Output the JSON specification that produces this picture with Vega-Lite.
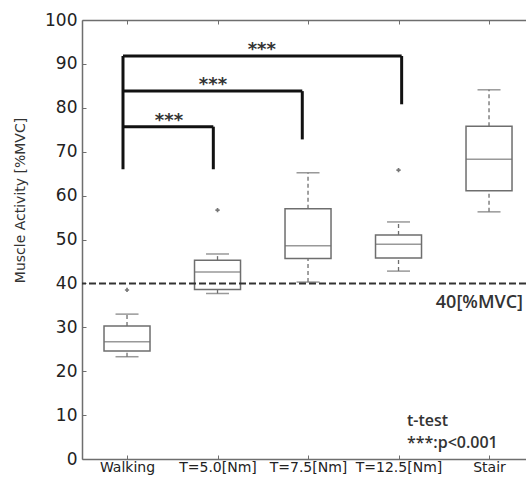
{
  "$schema": "https://vega.github.io/schema/vega-lite/v6.json",
  "width": 444,
  "height": 439,
  "autosize": {"type": "none"},
  "padding": {"left": 82, "top": 20, "right": 0, "bottom": 22},
  "background": "white",
  "config": {
    "view": {"stroke": null},
    "axis": {"grid": false, "domainColor": "#6e6e6e", "domainWidth": 1.5, "tickColor": "#6e6e6e", "tickWidth": 1, "labelFont": "DejaVu Sans", "labelColor": "#222222", "titleFont": "DejaVu Sans"},
    "axisY": {"labelFontSize": 17, "labelPadding": 9, "tickSize": -4},
    "axisX": {"labelFontSize": 14}
  },
  "datasets": {
    "boxes": [
      {"cat": "Walking", "lo": 23.3, "q1": 24.6, "med": 26.7, "q3": 30.3, "hi": 33.0},
      {"cat": "T=5.0[Nm]", "lo": 37.7, "q1": 38.6, "med": 42.6, "q3": 45.3, "hi": 46.7},
      {"cat": "T=7.5[Nm]", "lo": 40.3, "q1": 45.7, "med": 48.6, "q3": 57.0, "hi": 65.2},
      {"cat": "T=12.5[Nm]", "lo": 42.8, "q1": 45.8, "med": 48.9, "q3": 51.0, "hi": 54.0},
      {"cat": "Stair", "lo": 56.3, "q1": 61.1, "med": 68.3, "q3": 75.8, "hi": 84.1}
    ],
    "outliers": [
      {"cat": "Walking", "v": 38.5},
      {"cat": "T=5.0[Nm]", "v": 56.7},
      {"cat": "T=12.5[Nm]", "v": 65.8}
    ],
    "brackets": [
      {"x": 0.956, "x2": 1.954, "y": 75.7, "y2": 75.7},
      {"x": 0.956, "x2": 2.937, "y": 83.8, "y2": 83.8},
      {"x": 0.956, "x2": 4.035, "y": 91.8, "y2": 91.8},
      {"x": 0.956, "x2": 0.956, "y": 66.0, "y2": 91.8},
      {"x": 1.954, "x2": 1.954, "y": 66.0, "y2": 75.7},
      {"x": 2.937, "x2": 2.937, "y": 72.8, "y2": 83.8},
      {"x": 4.035, "x2": 4.035, "y": 80.8, "y2": 91.8}
    ],
    "stars": [
      {"x": 1.464, "y": 75.9, "t": "***"},
      {"x": 1.950, "y": 84.0, "t": "***"},
      {"x": 2.490, "y": 92.1, "t": "***"}
    ],
    "noteRight": [
      {"x": 5.376, "y": 34.3, "t": "40[%MVC]"}
    ],
    "noteLeft": [
      {"x": 4.094, "y": 7.6, "t": "t-test"},
      {"x": 4.094, "y": 2.6, "t": "***:p<0.001"}
    ]
  },
  "resolve": {"scale": {"x": "independent"}, "axis": {"x": "independent"}},
  "layer": [
    {
      "data": {"name": "boxes"},
      "mark": {"type": "rule", "color": "#6e6e6e", "strokeWidth": 1.3, "strokeDash": [4, 3]},
      "encoding": {
        "x": {"field": "cat", "type": "nominal", "scale": {"type": "point", "domain": ["Walking", "T=5.0[Nm]", "T=7.5[Nm]", "T=12.5[Nm]", "Stair"], "padding": 0.453, "align": 0.549}, "axis": null},
        "y": {"field": "lo", "type": "quantitative", "scale": {"domain": [0, 100], "nice": false, "zero": true},
          "axis": {"orient": "left", "values": [0, 10, 20, 30, 40, 50, 60, 70, 80, 90, 100], "tickSize": -4, "labelPadding": 9, "labelFontSize": 17, "title": "Muscle Activity [%MVC]", "titleFontSize": 14, "titleFontWeight": "normal", "titleColor": "#333333", "titleX": -62, "titleY": 180, "titleAngle": -90, "titleBaseline": "middle", "titleAlign": "center"}},
        "y2": {"field": "q1"}
      }
    },
    {
      "data": {"name": "boxes"},
      "mark": {"type": "rule", "color": "#6e6e6e", "strokeWidth": 1.3, "strokeDash": [4, 3]},
      "encoding": {
        "x": {"field": "cat", "type": "nominal", "scale": {"type": "point", "domain": ["Walking", "T=5.0[Nm]", "T=7.5[Nm]", "T=12.5[Nm]", "Stair"], "padding": 0.453, "align": 0.549}, "axis": null},
        "y": {"field": "q3", "type": "quantitative"},
        "y2": {"field": "hi"}
      }
    },
    {
      "data": {"name": "boxes"},
      "mark": {"type": "bar", "size": 46, "fill": "white", "stroke": "#6e6e6e", "strokeWidth": 1.5},
      "encoding": {
        "x": {"field": "cat", "type": "nominal", "sort": null, "scale": {"type": "point", "domain": ["Walking", "T=5.0[Nm]", "T=7.5[Nm]", "T=12.5[Nm]", "Stair"], "padding": 0.453, "align": 0.549},
          "axis": {"orient": "bottom", "title": null, "labelAngle": 0, "labelFontSize": 14, "tickSize": -4, "labelPadding": 5, "ticks": true}},
        "y": {"field": "q1", "type": "quantitative"},
        "y2": {"field": "q3"}
      }
    },
    {
      "data": {"name": "boxes"},
      "mark": {"type": "tick", "size": 46, "thickness": 1.5, "color": "#6e6e6e"},
      "encoding": {
        "x": {"field": "cat", "type": "nominal", "scale": {"type": "point", "domain": ["Walking", "T=5.0[Nm]", "T=7.5[Nm]", "T=12.5[Nm]", "Stair"], "padding": 0.453, "align": 0.549},
          "axis": {"orient": "top", "title": null, "labels": false, "tickSize": -4}},
        "y": {"field": "med", "type": "quantitative"}
      }
    },
    {
      "data": {"name": "boxes"},
      "mark": {"type": "tick", "size": 23, "thickness": 1.5, "color": "#6e6e6e"},
      "encoding": {
        "x": {"field": "cat", "type": "nominal", "scale": {"type": "point", "domain": ["Walking", "T=5.0[Nm]", "T=7.5[Nm]", "T=12.5[Nm]", "Stair"], "padding": 0.453, "align": 0.549}, "axis": null},
        "y": {"field": "lo", "type": "quantitative"}
      }
    },
    {
      "data": {"name": "boxes"},
      "mark": {"type": "tick", "size": 23, "thickness": 1.5, "color": "#6e6e6e"},
      "encoding": {
        "x": {"field": "cat", "type": "nominal", "scale": {"type": "point", "domain": ["Walking", "T=5.0[Nm]", "T=7.5[Nm]", "T=12.5[Nm]", "Stair"], "padding": 0.453, "align": 0.549}, "axis": null},
        "y": {"field": "hi", "type": "quantitative"}
      }
    },
    {
      "data": {"name": "outliers"},
      "mark": {"type": "point", "shape": "cross", "size": 18, "filled": true, "color": "#777777", "opacity": 1},
      "encoding": {
        "x": {"field": "cat", "type": "nominal", "scale": {"type": "point", "domain": ["Walking", "T=5.0[Nm]", "T=7.5[Nm]", "T=12.5[Nm]", "Stair"], "padding": 0.453, "align": 0.549}, "axis": null},
        "y": {"field": "v", "type": "quantitative"}
      }
    },
    {
      "data": {"values": [{"v": 40}]},
      "mark": {"type": "rule", "color": "#333333", "strokeWidth": 2, "strokeDash": [7, 3]},
      "encoding": {
        "y": {"field": "v", "type": "quantitative"}
      }
    },
    {
      "data": {"name": "brackets"},
      "mark": {"type": "rule", "color": "#111111", "strokeWidth": 3, "strokeCap": "butt"},
      "encoding": {
        "x": {"field": "x", "type": "quantitative", "scale": {"domain": [0.503, 5.409], "nice": false, "zero": false}, "axis": null},
        "x2": {"field": "x2"},
        "y": {"field": "y", "type": "quantitative"},
        "y2": {"field": "y2"}
      }
    },
    {
      "data": {"name": "stars"},
      "mark": {"type": "text", "font": "DejaVu Sans", "fontWeight": "bold", "fontSize": 18, "color": "#333333", "align": "center", "baseline": "alphabetic"},
      "encoding": {
        "x": {"field": "x", "type": "quantitative", "scale": {"domain": [0.503, 5.409], "nice": false, "zero": false}, "axis": null},
        "y": {"field": "y", "type": "quantitative"},
        "text": {"field": "t"}
      }
    },
    {
      "data": {"name": "noteRight"},
      "mark": {"type": "text", "font": "Open Sans", "fontWeight": 600, "fontSize": 18, "color": "#333333", "baseline": "alphabetic", "align": "right"},
      "encoding": {
        "x": {"field": "x", "type": "quantitative", "scale": {"domain": [0.503, 5.409], "nice": false, "zero": false}, "axis": null},
        "y": {"field": "y", "type": "quantitative"},
        "text": {"field": "t"}
      }
    },
    {
      "data": {"name": "noteLeft"},
      "mark": {"type": "text", "font": "Open Sans", "fontWeight": 600, "fontSize": 16, "color": "#333333", "baseline": "alphabetic", "align": "left"},
      "encoding": {
        "x": {"field": "x", "type": "quantitative", "scale": {"domain": [0.503, 5.409], "nice": false, "zero": false}, "axis": null},
        "y": {"field": "y", "type": "quantitative"},
        "text": {"field": "t"}
      }
    }
  ]
}
